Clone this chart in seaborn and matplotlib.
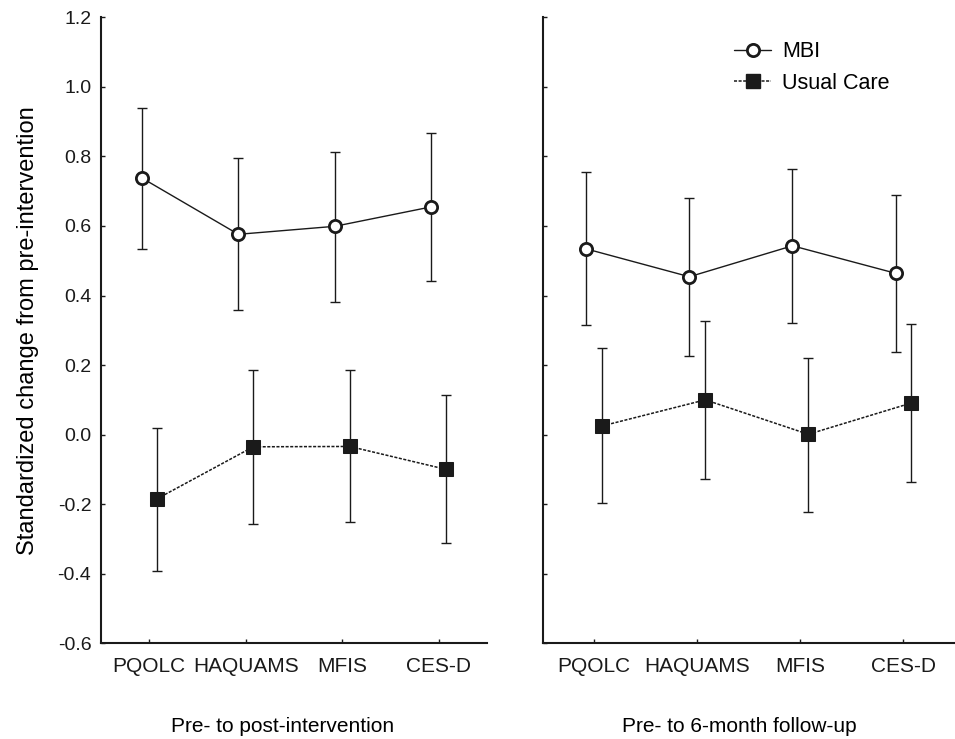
import numpy as np
import pandas as pd
import matplotlib
matplotlib.use("Agg")
import matplotlib.pyplot as plt
import seaborn as sns
from matplotlib.lines import Line2D

measures = ["PQOLC", "HAQUAMS", "MFIS", "CES-D"]

# pre- to post-intervention
post_mbi = [0.738, 0.576, 0.599, 0.655]
post_mbi_lo = [0.533, 0.358, 0.382, 0.441]
post_mbi_hi = [0.940, 0.796, 0.814, 0.867]
post_uc = [-0.185, -0.035, -0.034, -0.100]
post_uc_lo = [-0.392, -0.257, -0.251, -0.313]
post_uc_hi = [0.018, 0.185, 0.185, 0.114]

# pre- to 6-month follow-up
fu_mbi = [0.534, 0.454, 0.543, 0.464]
fu_mbi_lo = [0.315, 0.227, 0.322, 0.238]
fu_mbi_hi = [0.756, 0.679, 0.763, 0.689]
fu_uc = [0.025, 0.100, 0.001, 0.091]
fu_uc_lo = [-0.197, -0.128, -0.222, -0.137]
fu_uc_hi = [0.248, 0.327, 0.221, 0.319]

panels = [
    ("Pre- to post-intervention", post_mbi, post_mbi_lo, post_mbi_hi, post_uc, post_uc_lo, post_uc_hi),
    ("Pre- to 6-month follow-up", fu_mbi, fu_mbi_lo, fu_mbi_hi, fu_uc, fu_uc_lo, fu_uc_hi),
]

sns.set_theme(style="ticks")
plt.rcParams["font.family"] = ["Liberation Sans", "DejaVu Sans"]
plt.rcParams["text.color"] = "black"
plt.rcParams["axes.labelcolor"] = "black"

fig = plt.figure(figsize=(9.55, 7.39), dpi=100)
ax1 = fig.add_axes([0.1058, 0.1295, 0.4042, 0.8471])
ax2 = fig.add_axes([0.5683, 0.1295, 0.4317, 0.8471])

DODGE = 0.077
pos = np.arange(len(measures))

for ax, (title, mbi, mlo, mhi, uc, ulo, uhi) in zip([ax1, ax2], panels):
    df_m = pd.DataFrame({"x": pos - DODGE, "y": mbi})
    df_u = pd.DataFrame({"x": pos + DODGE, "y": uc})

    ax.errorbar(df_m["x"], df_m["y"],
                yerr=[np.array(mbi) - np.array(mlo), np.array(mhi) - np.array(mbi)],
                fmt="none", ecolor="k", elinewidth=1.0, capsize=3.6, capthick=1.0, zorder=1)
    ax.errorbar(df_u["x"], df_u["y"],
                yerr=[np.array(uc) - np.array(ulo), np.array(uhi) - np.array(uc)],
                fmt="none", ecolor="k", elinewidth=1.0, capsize=3.6, capthick=1.0, zorder=1)

    sns.lineplot(data=df_m, x="x", y="y", ax=ax, color="k", lw=1.0,
                 marker="o", markersize=8.8, markerfacecolor="white",
                 markeredgecolor="k", markeredgewidth=2.0, zorder=3)
    sns.lineplot(data=df_u, x="x", y="y", ax=ax, color="k", lw=1.1,
                 linestyle=(0, (2, 1)), marker="s", markersize=10,
                 markerfacecolor="k", markeredgecolor="k", zorder=3)

    ax.set_xlim(-0.5, 3.5)
    ax.set_ylim(-0.6, 1.2)
    ax.set_yticks(np.arange(-0.6, 1.21, 0.2))
    ax.set_xticks(pos)
    ax.set_xticklabels(measures, fontsize=15)
    ax.tick_params(direction="in", length=3, width=1, colors="k")
    ax.tick_params(axis="x", pad=10)
    ax.set_xlabel(title, fontsize=15)
    ax.set_ylabel("")
    for s in ["left", "bottom"]:
        ax.spines[s].set_linewidth(1.5)
        ax.spines[s].set_color("k")
    sns.despine(ax=ax)

ax1.set_yticklabels([f"{v:.1f}" for v in np.arange(-0.6, 1.21, 0.2)], fontsize=14)
ax1.tick_params(axis="y", pad=7)
ax2.set_yticklabels([])
ax1.set_ylabel("Standardized change from pre-intervention", fontsize=17)
ax1.yaxis.set_label_coords(-0.16, 0.5)

ax1.xaxis.set_label_coords(0.469, -0.118)
ax2.xaxis.set_label_coords(0.477, -0.118)

handles = [
    Line2D([], [], color="k", lw=1.0, marker="o", markersize=8.8,
           markerfacecolor="white", markeredgecolor="k", markeredgewidth=2.0),
    Line2D([], [], color="k", lw=1.1, linestyle=(0, (2, 1)), marker="s",
           markersize=10, markerfacecolor="k", markeredgecolor="k"),
]
ax2.legend(handles, ["MBI", "Usual Care"], loc="upper left",
           bbox_to_anchor=(0.465, 0.962), frameon=False, fontsize=15.5,
           borderpad=0, borderaxespad=0, handlelength=1.72,
           handletextpad=0.5, labelspacing=0.5)

fig.savefig("out.png", dpi=100)
